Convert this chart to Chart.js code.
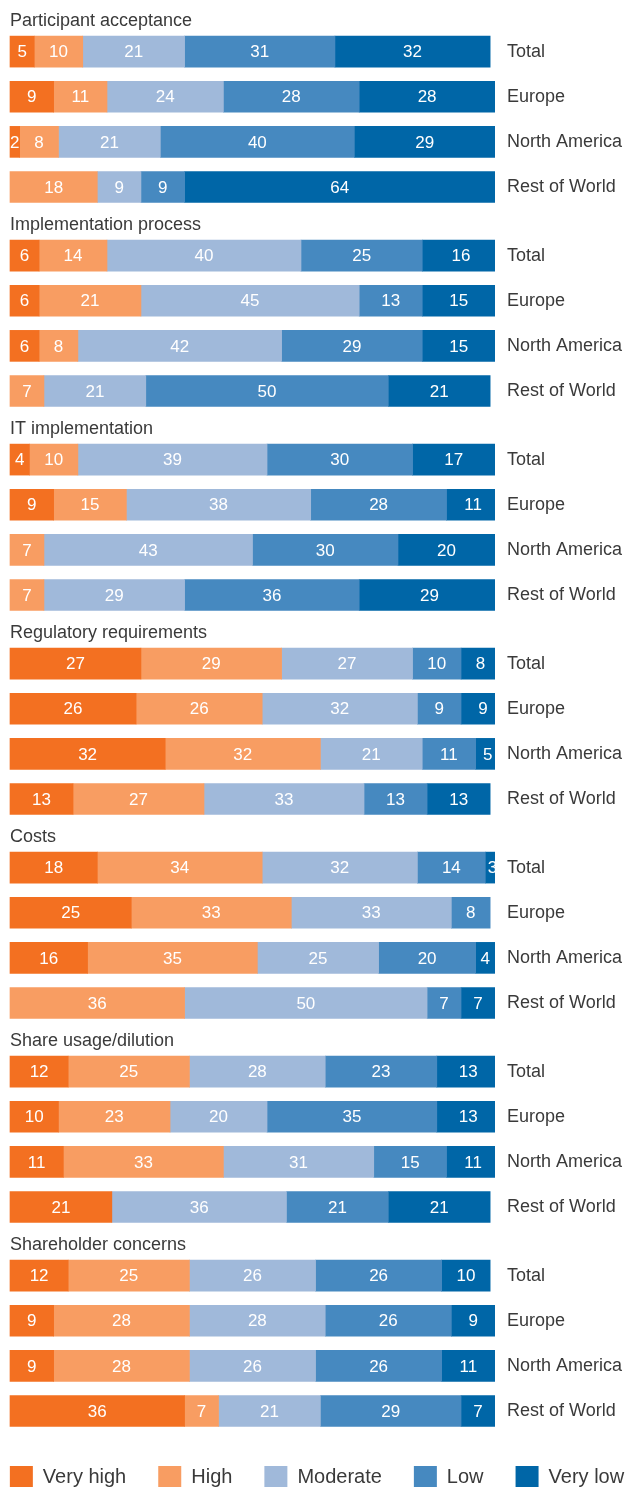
<!DOCTYPE html>
<html>
<head>
<meta charset="utf-8">
<script src="https://cdn.jsdelivr.net/npm/chart.js@4"></script>
<style>
  body { margin: 0; background: #fff; overflow: hidden; }
  .group { position: relative; width: 626px; height: 204px; }
  .legend { position: relative; width: 700px; height: 160px; left: -33px; }
</style>
</head>
<body>
<div id="charts"></div>
<div class="legend"><canvas id="legend"></canvas></div>
<script>
// Topics, regions and answer levels
const topics = ['Participant acceptance', 'Implementation process', 'IT implementation',
  'Regulatory requirements', 'Costs', 'Share usage/dilution', 'Shareholder concerns'];
const regions = ['Total', 'Europe', 'North America', 'Rest of World'];
const levels = ['Very high', 'High', 'Moderate', 'Low', 'Very low'];
const levelColors = ['#f37021', '#f89d62', '#a0b9da', '#4689c0', '#0066a7'];

// One row per region: very high, high, moderate, low, very low (%)
const participantAcceptance = [[5, 10, 21, 31, 32], [9, 11, 24, 28, 28], [2, 8, 21, 40, 29], [0, 18, 9, 9, 64]];
const implementationProcess = [[6, 14, 40, 25, 16], [6, 21, 45, 13, 15], [6, 8, 42, 29, 15], [0, 7, 21, 50, 21]];
const itImplementation = [[4, 10, 39, 30, 17], [9, 15, 38, 28, 11], [0, 7, 43, 30, 20], [0, 7, 29, 36, 29]];
const regulatoryRequirements = [[27, 29, 27, 10, 8], [26, 26, 32, 9, 9], [32, 32, 21, 11, 5], [13, 27, 33, 13, 13]];
const costs = [[18, 34, 32, 14, 3], [25, 33, 33, 8, 0], [16, 35, 25, 20, 4], [0, 36, 50, 7, 7]];
const shareUsage = [[12, 25, 28, 23, 13], [10, 23, 20, 35, 13], [11, 33, 31, 15, 11], [21, 0, 36, 21, 21]];
const shareholderConcerns = [[12, 25, 26, 26, 10], [9, 28, 28, 26, 9], [9, 28, 26, 26, 11], [36, 7, 21, 29, 7]];

const topicData = [participantAcceptance, implementationProcess, itImplementation,
  regulatoryRequirements, costs, shareUsage, shareholderConcerns];

Chart.defaults.font.family = "'Liberation Sans', Arial, sans-serif";
Chart.defaults.color = '#3a3a3a';

// white numbers centred in each segment
const segmentLabels = {
  id: 'segmentLabels',
  afterDatasetsDraw(chart) {
    const ctx = chart.ctx;
    ctx.save();
    ctx.fillStyle = '#fff';
    ctx.font = "17px 'Liberation Sans', Arial, sans-serif";
    ctx.textAlign = 'center';
    ctx.textBaseline = 'middle';
    chart.data.datasets.forEach((ds, i) => {
      chart.getDatasetMeta(i).data.forEach((bar, j) => {
        const v = ds.data[j];
        if (!v) return;
        const p = bar.getProps(['x', 'y', 'base'], true);
        ctx.fillText(v, (p.x + p.base) / 2, p.y + 1);
      });
    });
    ctx.restore();
  }
};

const container = document.getElementById('charts');

topics.forEach((topic, t) => {
  const div = document.createElement('div');
  div.className = 'group';
  const canvas = document.createElement('canvas');
  div.appendChild(canvas);
  container.appendChild(div);

  const rows = topicData[t];
  new Chart(canvas, {
    type: 'bar',
    data: {
      labels: regions,
      datasets: levels.map((lvl, k) => ({
        label: lvl,
        data: rows.map(r => r[k] || null),
        backgroundColor: levelColors[k],
        borderWidth: 0,
        barThickness: 31,
        clip: { left: false, top: false, right: 0, bottom: false }
      }))
    },
    options: {
      indexAxis: 'y',
      responsive: true,
      maintainAspectRatio: false,
      animation: false,
      layout: { padding: { left: 10, right: 0, top: 0, bottom: 17 } },
      plugins: {
        title: {
          display: true,
          text: topic,
          align: 'start',
          color: '#3a3a3a',
          font: { size: 18, weight: 'normal' },
          padding: { top: 10, bottom: 20 }
        },
        legend: { display: false },
        tooltip: { enabled: false }
      },
      scales: {
        x: { stacked: true, display: false, min: 0, max: 100 },
        y: {
          stacked: true,
          position: 'right',
          offset: false,
          grid: { display: false, drawTicks: false },
          border: { display: false },
          ticks: { color: '#3a3a3a', font: { size: 18 }, padding: 12 },
          afterFit(scale) {
            scale.width = 131;
            scale.paddingTop = 0;
            scale.paddingBottom = 0;
          }
        }
      }
    },
    plugins: [segmentLabels]
  });
});

// shared legend along the bottom
new Chart(document.getElementById('legend'), {
  type: 'bar',
  data: {
    labels: [],
    datasets: levels.map((lvl, k) => ({ label: lvl, data: [], backgroundColor: levelColors[k], borderWidth: 0 }))
  },
  options: {
    responsive: true,
    maintainAspectRatio: false,
    animation: false,
    layout: { padding: { top: 6 } },
    scales: { x: { display: false }, y: { display: false } },
    plugins: {
      tooltip: { enabled: false },
      legend: {
        position: 'top',
        onClick: null,
        labels: { boxWidth: 23, boxHeight: 23, padding: 32, color: '#3a3a3a', font: { size: 20 } }
      }
    }
  }
});
</script>
</body>
</html>
